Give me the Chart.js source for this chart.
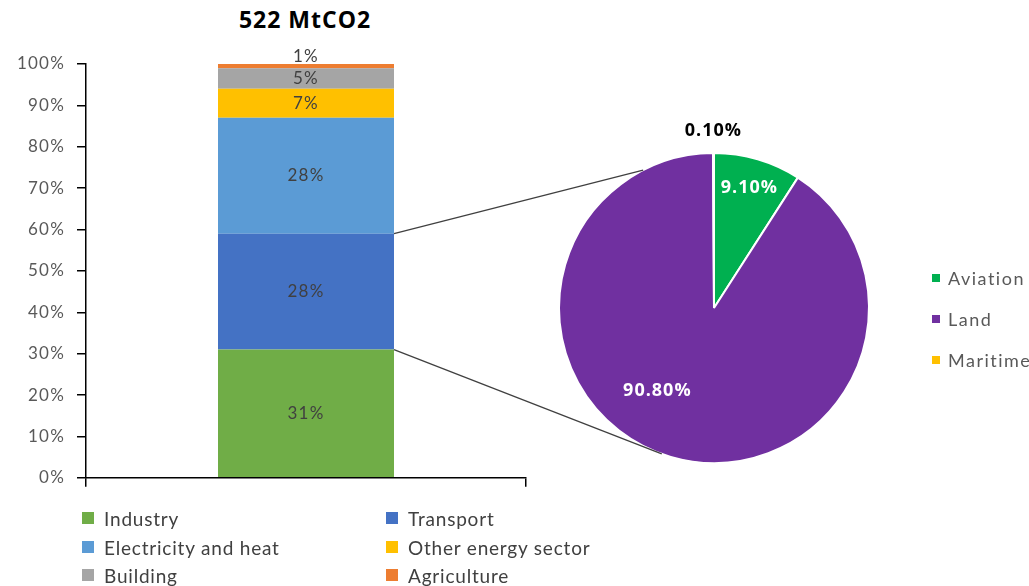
<!DOCTYPE html>
<html>
<head>
<meta charset="utf-8">
<script src="https://cdn.jsdelivr.net/npm/chart.js@4.4.0/dist/chart.umd.min.js"></script>
<style>
  html, body { margin: 0; padding: 0; background: #fff; }
  #page { position: relative; width: 1029px; height: 586px; overflow: hidden; font-family: Lato, "Open Sans", sans-serif; }
  #page canvas { position: absolute; }
  #title { position: absolute; left: 155px; width: 300px; top: 3px; text-align: center; font: bold 23px "Open Sans", sans-serif; letter-spacing: 1px; color: #000; }
  .row { position: absolute; height: 24px; display: flex; align-items: center; white-space: nowrap; }
  .row i { display: inline-block; flex: none; }
  .sector { font-size: 19px; letter-spacing: 0.8px; color: #404040; }
  .sector i { width: 12px; height: 12px; margin-right: 10px; }
  .mode { font-size: 18px; letter-spacing: 1.5px; color: #595959; }
  .mode i { width: 8px; height: 8px; margin-right: 8px; }
</style>
</head>
<body>
<div id="page">
  <div id="title">522 MtCO2</div>
  <canvas id="bar" width="560" height="500" style="left:0;top:0"></canvas>
  <canvas id="pie" width="400" height="400" style="left:514px;top:108px"></canvas>
  <canvas id="links" width="1029" height="586" style="left:0;top:0;pointer-events:none"></canvas>
</div>
<script>
// Emission shares by sector (stacked bar), %
const sectors = ['Industry', 'Transport', 'Electricity and heat', 'Other energy sector', 'Building', 'Agriculture'];
const sectorShares = [31, 28, 28, 7, 5, 1];
const sectorColors = ['#70AD47', '#4472C4', '#5B9BD5', '#FFC000', '#A5A5A5', '#ED7D31'];

// Transport split (pie), %
const modes = ['Aviation', 'Land', 'Maritime'];
const modeShares = [9.1, 90.8, 0.1];
const modeColors = ['#00B050', '#7030A0', '#FFC000'];
const modeLabels = ['9.10%', '90.80%', '0.10%'];

const yTicks = [0, 10, 20, 30, 40, 50, 60, 70, 80, 90, 100];

// label placement inside the pie (fraction of radius, extra angle in degrees)
const pieLabelColor = ['#fff', '#fff', '#000'];
const pieLabelRadius = [0.81, 0.65, 1.14];
const pieLabelShift = [0, 18, 0];

const PIE_LEFT = 514, PIE_TOP = 108;

// value labels in the middle of each bar segment
const barLabels = {
  id: 'barLabels',
  beforeDraw(chart) {
    chart.ctx.letterSpacing = '1.2px';
  },
  afterDatasetsDraw(chart) {
    const ctx = chart.ctx;
    ctx.save();
    ctx.font = '17px Lato';
    ctx.fillStyle = '#404040';
    ctx.textAlign = 'center';
    ctx.textBaseline = 'middle';
    chart.data.datasets.forEach(function(ds, i) {
      const el = chart.getDatasetMeta(i).data[0];
      let y = (el.y + el.base) / 2;
      // too thin to hold the text, push it up a bit
      if (el.base - el.y < 10) y = el.y - 7;
      ctx.fillText(ds.data[0] + '%', el.x, y);
    });
    ctx.restore();
  }
};

const pieLabels = {
  id: 'pieLabels',
  afterDatasetsDraw(chart) {
    const ctx = chart.ctx;
    ctx.save();
    ctx.font = 'bold 18px "Open Sans"';
    ctx.letterSpacing = '1px';
    ctx.textAlign = 'center';
    ctx.textBaseline = 'middle';
    chart.getDatasetMeta(0).data.forEach(function(arc, i) {
      const mid = (arc.startAngle + arc.endAngle) / 2 + pieLabelShift[i] * Math.PI / 180;
      const r = arc.outerRadius * pieLabelRadius[i];
      ctx.fillStyle = pieLabelColor[i];
      ctx.fillText(modeLabels[i], arc.x + Math.cos(mid) * r, arc.y + Math.sin(mid) * r);
    });
    ctx.restore();
  }
};

const barChart = new Chart(document.getElementById('bar'), {
  type: 'bar',
  data: {
    labels: [''],
    datasets: sectors.map(function(name, i) {
      return {
        label: name,
        data: [sectorShares[i]],
        backgroundColor: sectorColors[i],
        barPercentage: 1,
        categoryPercentage: 0.4
      };
    })
  },
  options: {
    responsive: false,
    animation: false,
    layout: { padding: { top: 64, right: 34, left: 0, bottom: 0 } },
    plugins: { legend: { display: false }, tooltip: { enabled: false } },
    scales: {
      x: {
        stacked: true,
        ticks: { display: false },
        grid: { offset: true, drawOnChartArea: false, color: '#000', lineWidth: 1.5, tickLength: 9 },
        border: { color: '#000', width: 1.5 },
        afterFit: function(s) { s.height = 22; }
      },
      y: {
        stacked: true,
        min: 0,
        max: 100,
        afterBuildTicks: function(s) { s.ticks = yTicks.map(function(v) { return { value: v }; }); },
        ticks: {
          callback: function(v) { return v + '%'; },
          color: '#595959',
          font: { family: 'Lato', size: 17 },
          padding: 12
        },
        grid: { drawOnChartArea: false, color: '#000', lineWidth: 1.5, tickLength: 9 },
        border: { color: '#000', width: 1.5 },
        afterFit: function(s) { s.width = 86; }
      }
    }
  },
  plugins: [barLabels]
});

const pieChart = new Chart(document.getElementById('pie'), {
  type: 'pie',
  data: {
    labels: modes,
    datasets: [{
      data: modeShares,
      backgroundColor: modeColors,
      borderColor: '#fff',
      borderWidth: 2
    }]
  },
  options: {
    responsive: false,
    animation: false,
    layout: { padding: 44 },
    plugins: { legend: { display: false }, tooltip: { enabled: false } }
  },
  plugins: [pieLabels]
});

// connector lines from the transport segment to the pie
const linkAngles = [242.8, 109.7];
const linkFrom = [1, 0]; // top of Transport, top of Industry
const octx = document.getElementById('links').getContext('2d');
const arc0 = pieChart.getDatasetMeta(0).data[0];
const cx = PIE_LEFT + arc0.x, cy = PIE_TOP + arc0.y, R = arc0.outerRadius;
octx.strokeStyle = '#404040';
octx.lineWidth = 1.3;
linkFrom.forEach(function(dsIndex, k) {
  const el = barChart.getDatasetMeta(dsIndex).data[0];
  const a = linkAngles[k] * Math.PI / 180;
  octx.beginPath();
  octx.moveTo(el.x + el.width / 2, el.y);
  octx.lineTo(cx + Math.cos(a) * R, cy + Math.sin(a) * R);
  octx.stroke();
});

// legends
const page = document.getElementById('page');
function addRow(cls, left, centerY, color, text) {
  const row = document.createElement('div');
  row.className = 'row ' + cls;
  row.style.left = left + 'px';
  row.style.top = (centerY - 12) + 'px';
  const sw = document.createElement('i');
  sw.style.background = color;
  row.appendChild(sw);
  row.appendChild(document.createTextNode(text));
  page.appendChild(row);
}
const sectorCols = [82, 386];
const sectorRows = [518, 547, 575];
sectors.forEach(function(name, i) {
  addRow('sector', sectorCols[i % 2], sectorRows[Math.floor(i / 2)], sectorColors[i], name);
});
const modeRows = [278, 319, 360];
modes.forEach(function(name, i) {
  addRow('mode', 932, modeRows[i], modeColors[i], name);
});
</script>
</body>
</html>
